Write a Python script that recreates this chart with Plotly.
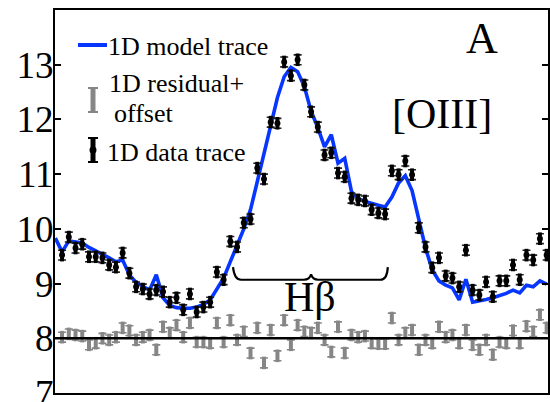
import plotly.graph_objects as go

# Spectral channel index along the slit trace
channel = list(range(74))

# 1D model trace (one value per channel, starting at channel 0)
model_flux = [9.83, 9.58, 9.78, 9.76, 9.74, 9.66, 9.60, 9.54, 9.47, 9.40,
              9.43, 9.16, 9.02, 8.95, 8.88, 9.16, 8.74, 8.60, 8.56, 8.55,
              8.55, 8.57, 8.62, 8.70, 8.90, 9.10, 9.40, 9.70, 10.00, 10.35,
              10.85, 11.35, 11.90, 12.40, 12.78, 12.95, 12.87, 12.60, 12.15, 11.85,
              11.50, 11.72, 11.20, 11.29, 10.68, 10.55, 10.50, 10.46, 10.43, 10.40,
              10.58, 10.84, 10.97, 10.70, 10.15, 9.65, 9.25, 9.05, 8.97, 8.92,
              8.70, 9.08, 8.66, 8.68, 8.71, 8.74, 8.78, 8.82, 8.88, 8.83,
              8.97, 8.94, 9.05, 8.99]

# 1D data trace (channels 1..73)
data_channel = channel[1:]
data_flux = [9.52, 9.85, 9.65, 9.72, 9.49, 9.49, 9.47, 9.34, 9.30,
             9.56, 9.19, 8.94, 8.90, 8.81, 8.88, 8.85, 8.66, 8.74, 8.52,
             8.81, 8.48, 8.57, 8.66, 9.21, 9.07, 9.77, 9.67, 10.11, 10.18,
             11.11, 10.91, 11.95, 11.93, 13.05, 12.80, 13.09, 12.63, 12.14, 11.86,
             11.35, 11.39, 11.02, 10.95, 10.56, 10.53, 10.51, 10.35, 10.29, 10.27,
             11.06, 10.99, 11.24, 10.99, 10.02, 9.67, 9.29, 9.47, 9.14, 9.10,
             8.94, 9.61, 8.88, 8.79, 9.03, 8.76, 9.05, 9.05, 9.34, 9.07,
             9.52, 9.43, 9.82, 9.52]
data_err = [0.09] * len(data_flux)

# 1D residual (data - model) shifted by a constant offset
offset = 8.0
resid_flux = [8.02, 8.08, 8.06, 8.04, 7.88, 7.91, 8.00, 7.97, 8.02,
              8.19, 8.14, 7.97, 8.02, 8.06, 7.79, 8.21, 8.10, 8.24, 8.02,
              8.28, 7.93, 7.93, 7.91, 8.28, 7.93, 8.33, 7.97, 8.12, 7.73,
              8.19, 7.55, 8.15, 7.68, 8.33, 7.88, 8.24, 8.12, 8.10, 8.19,
              7.97, 7.75, 8.21, 7.73, 8.06, 8.02, 8.04, 7.91, 7.90, 7.90,
              8.37, 7.97, 8.10, 8.15, 7.79, 7.97, 7.91, 8.21, 8.02, 8.06,
              7.91, 8.15, 7.88, 7.79, 7.97, 7.70, 7.93, 7.91, 8.14, 7.91,
              8.22, 8.12, 8.43, 8.19]
resid_err = [0.09] * len(resid_flux)

y_ticks = [7, 8, 9, 10, 11, 12, 13]

BLUE = "#0636ff"
GREY = "#868686"
SERIF = "Times New Roman, Liberation Serif, serif"

fig = go.Figure()

fig.add_trace(go.Scatter(
    x=data_channel, y=resid_flux, mode="markers",
    marker=dict(symbol="line-ns", size=9, line=dict(width=4, color=GREY), color=GREY),
    error_y=dict(type="data", array=resid_err, color=GREY, thickness=1.6, width=4),
    showlegend=False,
))

fig.add_trace(go.Scatter(
    x=channel, y=model_flux, mode="lines",
    line=dict(color=BLUE, width=3.6),
    showlegend=False,
))

fig.add_trace(go.Scatter(
    x=data_channel, y=data_flux, mode="markers",
    marker=dict(symbol="line-ns", size=9, line=dict(width=4, color="black"), color="black"),
    error_y=dict(type="data", array=data_err, color="#222222", thickness=1.6, width=4),
    showlegend=False,
))
fig.add_trace(go.Scatter(
    x=data_channel, y=data_flux, mode="markers",
    marker=dict(symbol="circle", size=6, color="black"),
    showlegend=False,
))

shapes = []
# zero-residual reference line
shapes.append(dict(type="line", xref="paper", yref="y", x0=0, x1=1, y0=offset, y1=offset,
                   line=dict(color="black", width=2.6)))

# curly brace under the H-beta emission
shapes.append(dict(
    type="path", xref="x", yref="y",
    path=("M 26.4,9.30 Q 26.6,9.07 27.6,9.07 L 36.9,9.07 "
          "Q 37.8,9.07 38.0,9.17 Q 38.2,9.07 39.1,9.07 L 48.3,9.07 "
          "Q 49.3,9.07 49.4,9.30"),
    line=dict(color="black", width=2.2),
))

# hand-built key glyphs
def px(x):
    return (x - 55) / 493


def py(y):
    return (393 - y) / 383


shapes.append(dict(type="line", xref="paper", yref="paper",
                   x0=px(78), x1=px(107), y0=py(45), y1=py(45),
                   line=dict(color=BLUE, width=4)))
for color, top, bot in [(GREY, 88, 112), ("black", 138, 162)]:
    shapes.append(dict(type="line", xref="paper", yref="paper",
                       x0=px(93), x1=px(93), y0=py(top), y1=py(bot),
                       line=dict(color=color, width=5)))
    for yy in (top, bot):
        shapes.append(dict(type="line", xref="paper", yref="paper",
                           x0=px(88), x1=px(98), y0=py(yy), y1=py(yy),
                           line=dict(color=color, width=2)))
shapes.append(dict(type="circle", xref="paper", yref="paper",
                   x0=px(89.5), x1=px(96.5), y0=py(146.5), y1=py(153.5),
                   fillcolor="black", line=dict(color="black", width=0)))

annotations = []
def label(text, x, y, size, anchor="left"):
    annotations.append(dict(text=text, xref="paper", yref="paper", x=px(x), y=py(y),
                            xanchor=anchor, yanchor="middle", showarrow=False,
                            font=dict(family=SERIF, size=size, color="black")))


label("1D model trace", 106, 46, 26)
label("1D residual+", 107, 84, 26)
label("offset", 112, 113, 26)
label("1D data trace", 105, 152, 26)
label("A", 482, 38, 44, "center")
label("[OIII]", 442, 114, 42, "center")
label("Hβ", 310, 297, 42, "center")

fig.update_layout(
    width=550, height=402,
    margin=dict(l=55, r=2, t=10, b=9, autoexpand=False),
    paper_bgcolor="white", plot_bgcolor="white",
    font=dict(family=SERIF, color="black"),
    shapes=shapes, annotations=annotations,
    showlegend=False,
    xaxis=dict(range=[-0.05, 73.2], showticklabels=False, ticks="", showgrid=False,
               zeroline=False, showline=True, mirror=True, linecolor="black", linewidth=2,
               automargin=False),
    yaxis=dict(range=[7, 14], tickvals=y_ticks, ticktext=[str(v) for v in y_ticks],
               ticks="inside", ticklen=6, tickwidth=1.5, tickcolor="black",
               showgrid=False, zeroline=False, showline=True, mirror="ticks",
               linecolor="black", linewidth=2, ticklabelstandoff=-8,
               ticklabeloverflow="allow", automargin=False,
               tickfont=dict(family=SERIF, size=37, color="black")),
)

fig.write_html("out.html")
